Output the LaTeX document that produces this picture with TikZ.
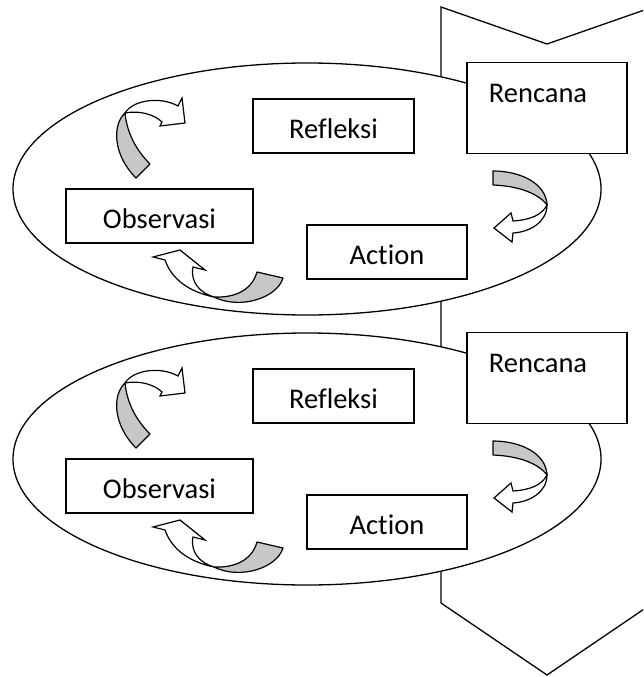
\documentclass[tikz,border=0pt]{standalone}
\usepackage{fontspec}
\setmainfont{Carlito}[Ligatures={NoCommon,NoRare,NoContextual}]
\usetikzlibrary{positioning, shapes.geometric}

\tikzset{
  stagebox/.style={draw, rectangle, fill=white, line width=1.4pt, inner sep=0pt,
    text height=25pt, text depth=0pt, font=\fontsize{28.5}{34}\selectfont},
  cycleoval/.style={draw, ellipse, fill=white, line width=1.3pt, inner sep=0pt,
    minimum width=588pt, minimum height=252pt},
  ribbonback/.style={draw, fill=black!22, line width=1.2pt, line join=round},
  ribbonfront/.style={draw, fill=white, line width=1.2pt, line join=miter},
}

\begin{document}
\begin{tikzpicture}[x=1pt, y=-1pt]
  \useasboundingbox (0,0) rectangle (643,677);
  \clip (0,0) rectangle (643,677);
  % big arrow behind both cycles
  \draw[line width=1.3pt] (441,7) -- (547,44) -- (653,7) -- (653,603) -- (547,675) -- (441,603) -- cycle;

  \foreach \k/\dy in {1/0, 2/270} {
    \begin{scope}[shift={(0,\dy)}]
      % Nodes
      \node (oval\k) [cycleoval] at (307,189) {};
      \node (ren\k) [stagebox, minimum width=160pt, minimum height=91pt] at (547,108) {};
      \node (renlabel\k) [anchor=base, font=\fontsize{28.5}{34}\selectfont] at (538,102) {Rencana};
      \node (ref\k) [stagebox, minimum width=161pt, minimum height=54pt] at (333.5,126) {Refleksi};
      \node (obs\k) [stagebox, minimum width=187pt, minimum height=54pt] at (159.5,216) {Observasi};
      \node (act\k) [stagebox, minimum width=160pt, minimum height=54pt] at (387,252) {Action};

      % Arrows
      % observasi -> refleksi
      \draw[ribbonback] (125,113) .. controls (112,125) and (113,155) .. (136,178) -- (150,164)
        .. controls (136,150) and (127,133) .. (125,113) -- cycle;
      \draw[ribbonfront] (125,113) .. controls (133,100) and (160,96) .. (178,106) -- (182,98) -- (185,123)
        -- (160,126) -- (162,122) .. controls (155,115) and (140,110) .. (125,113) -- cycle;
      % rencana -> action
      \draw[ribbonback] (493,171) .. controls (520,171) and (546,183) .. (547,205)
        .. controls (538,193) and (518,186) .. (493,185) -- cycle;
      \draw[ribbonfront] (547,205) .. controls (547,222) and (530,232) .. (513,233) -- (512,242) -- (494,228)
        -- (511,213) -- (513,221) .. controls (530,220) and (542,215) .. (547,205) -- cycle;
      % action -> observasi
      \draw[ribbonback] (257,272) -- (283,278) .. controls (277,298) and (240,310) .. (214,297)
        .. controls (235,298) and (252,290) .. (257,272) -- cycle;
      \draw[ribbonfront] (214,297) .. controls (190,292) and (172,280) .. (165,260) -- (153,257) -- (180,250)
        -- (205,270) -- (193,267) .. controls (190,282) and (200,293) .. (214,297) -- cycle;
    \end{scope}
  }
\end{tikzpicture}
\end{document}
